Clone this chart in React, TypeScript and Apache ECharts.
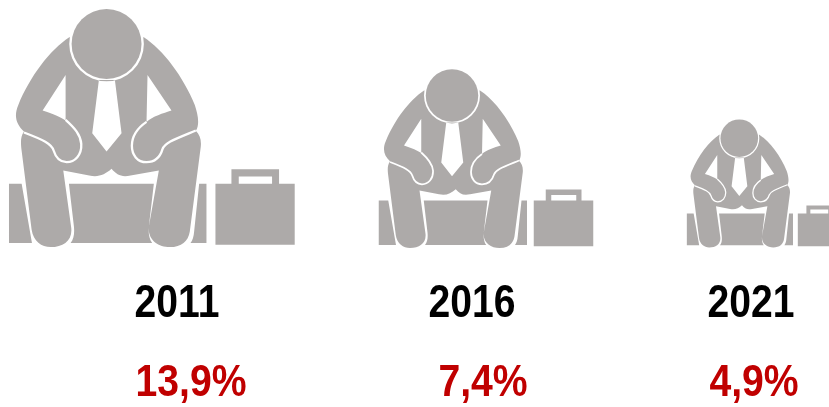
import React, { useEffect, useRef } from "react";
import * as echarts from "echarts";

const years = ["2011", "2016", "2021"];
const rates = [13.9, 7.4, 4.9];
const rateLabels = ["13,9%", "7,4%", "4,9%"];

// Drawing layout, kept apart from the data
const iconScale = [1 / 3, 0.25, 0.1785];
const iconX = [0, 372, 682];
const iconY = [0, 62.5, 114.6];
const yearX = [177, 472, 751];
const rateX = [191, 483, 754];
const GREY = "#ADAAA9";
const RED = "#C00000";
const FONT = '"Liberation Sans", sans-serif';
const NARROW = 0.85;

const silhouette =
  "M320 100 L208 112 C150 150 90 230 55 315 C40 350 50 375 72 395 C62 410 62 425 64 445 L95 690 C100 725 125 742 152 742 C190 742 218 722 214 685 L190 512 L268 527 C295 533 315 525 335 507 C350 525 365 533 392 527 L477 512 L447 680 C443 720 475 742 510 742 C545 742 565 725 570 695 L603 440 C605 420 600 405 588 393 C600 375 595 345 585 315 C550 230 490 150 432 112 Z " +
  "M27 552 L65 552 L96 730 L27 730 Z " +
  "M207 552 L462 552 L447 680 C445 700 448 718 457 730 L212 730 C222 718 224 700 222 680 Z " +
  "M598 552 L620 552 L620 730 L572 730 C578 722 582 710 583 695 Z " +
  "M647 552 L695 552 L695 508 L838 508 L838 552 L885 552 L885 735 L647 735 Z";

const whiteParts =
  "M208 132 a112 112 0 1 0 224 0 a112 112 0 1 0 -224 0 Z " +
  "M297 240 L345 240 L365 400 L320 455 L277 400 Z " +
  "M197 225 L128 332 C160 342 182 352 197 362 Z " +
  "M443 225 L515 332 C490 340 458 350 440 366 Z " +
  "M717 530 L817 530 L817 552 L717 552 Z";

const gapLines =
  "M197 360 C225 385 242 405 244 432 C246 465 225 487 200 487 C180 487 168 475 161 452 C155 432 130 420 72 398 " +
  "M440 366 C412 385 396 410 396 438 C396 465 412 487 440 487 C465 487 480 475 488 448 C495 428 525 418 588 392";

const head = "M215 132 a105 105 0 1 0 210 0 a105 105 0 1 0 -210 0 Z";

echarts.graphic.registerShape("manBody", echarts.graphic.extendPath(silhouette, {}) as any);
echarts.graphic.registerShape("manHoles", echarts.graphic.extendPath(whiteParts, {}) as any);
echarts.graphic.registerShape("manGaps", echarts.graphic.extendPath(gapLines, {}) as any);
echarts.graphic.registerShape("manHead", echarts.graphic.extendPath(head, {}) as any);

export default function App() {
  const ref = useRef<HTMLDivElement>(null);

  useEffect(() => {
    const chart = echarts.init(ref.current!, undefined, { renderer: "svg" });
    chart.setOption({
      animation: false,
      backgroundColor: "#ffffff",
      grid: { left: 0, right: 0, top: 0, bottom: 0 },
      xAxis: { type: "category", data: years, show: false },
      yAxis: { type: "value", min: 0, max: 14, show: false },
      series: [
        {
          type: "custom",
          clip: false,
          data: rates.map((r, i) => [i, r]),
          renderItem: (params: any) => {
            const i = params.dataIndex;
            const s = iconScale[i];
            const place = { x: iconX[i], y: iconY[i], scaleX: s, scaleY: s };
            return {
              type: "group",
              children: [
                { type: "manBody", ...place, style: { fill: GREY } },
                { type: "manHoles", ...place, style: { fill: "#fff" } },
                { type: "manGaps", ...place, style: { fill: "none", stroke: "#fff", lineWidth: 7 } },
                { type: "manHead", ...place, style: { fill: GREY } },
                {
                  type: "text",
                  x: yearX[i],
                  y: 301,
                  scaleX: NARROW,
                  style: {
                    text: years[i],
                    fill: "#000000",
                    font: `bold 46px ${FONT}`,
                    textAlign: "center",
                    textVerticalAlign: "middle",
                  },
                },
                {
                  type: "text",
                  x: rateX[i],
                  y: 381,
                  scaleX: 0.87,
                  style: {
                    text: rateLabels[i],
                    fill: RED,
                    font: `bold 45px ${FONT}`,
                    textAlign: "center",
                    textVerticalAlign: "middle",
                  },
                },
              ],
            };
          },
        },
      ],
    });
    return () => chart.dispose();
  }, []);

  return (
    <div
      ref={ref}
      style={{ position: "absolute", left: 0, top: 0, width: 829, height: 407, overflow: "hidden", filter: "blur(0.4px)" }}
    />
  );
}
